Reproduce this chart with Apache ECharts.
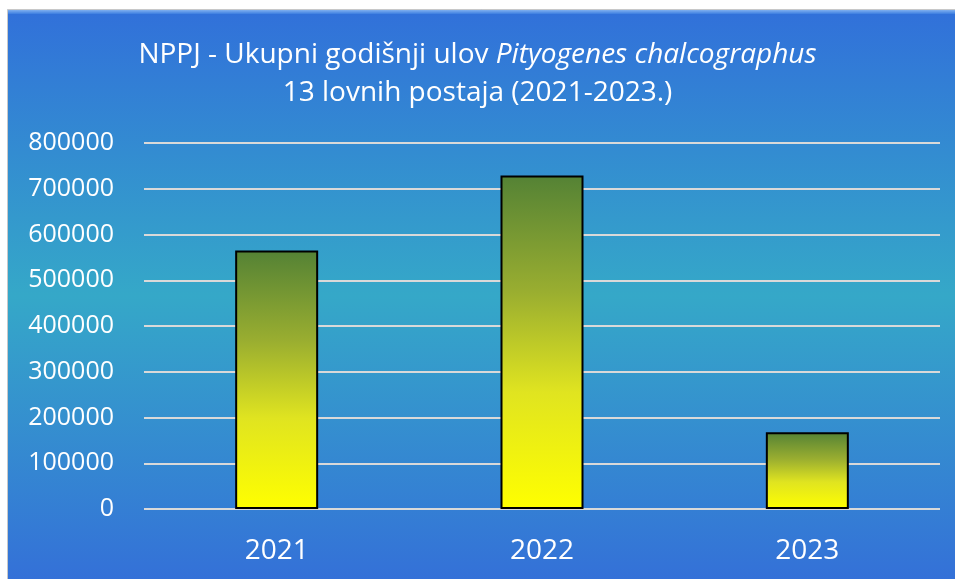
<!DOCTYPE html>
<html><head><meta charset="utf-8">
<script src="https://cdn.jsdelivr.net/npm/echarts@6/dist/echarts.min.js"></script>
<style>html,body{margin:0;padding:0;background:#fff}#c{width:955px;height:579px}</style>
</head><body><div id="c"></div>
<script>
const categories = ['2021', '2022', '2023'];
const catchValues = [565000, 729000, 168000];
const yTicks = [0, 100000, 200000, 300000, 400000, 500000, 600000, 700000, 800000];

const chart = echarts.init(document.getElementById('c'));
const font = '"Open Sans", Lato, sans-serif';
chart.setOption({
  backgroundColor: '#ffffff',
  graphic: [
    { type: 'rect', z: -10, shape: { x: 7.5, y: 9.5, width: 950, height: 572 },
      style: { fill: new echarts.graphic.LinearGradient(0, 0, 0, 1, [
        { offset: 0, color: '#3170da' },
        { offset: 0.5, color: '#35a8c8' },
        { offset: 1, color: '#3470d8' }
      ]), stroke: '#c8c8c8', lineWidth: 1 } },
    { type: 'rect', z: -9, shape: { x: 8, y: 10, width: 947, height: 4 },
      style: { fill: new echarts.graphic.LinearGradient(0, 0, 0, 1, [
        { offset: 0, color: '#7fb0f0' },
        { offset: 1, color: '#3c7ee0' }
      ]) } }
  ],
  title: {
    text: '{a|NPPJ - Ukupni godišnji ulov }{b|Pityogenes chalcographus}\n{a|13 lovnih postaja (2021-2023.)}',
    left: 'center', top: 31,
    textStyle: {
      fontWeight: 'normal',
      rich: {
        a: { color: '#fff', fontSize: 28, fontWeight: 'normal', fontFamily: font, lineHeight: 38 },
        b: { color: '#fff', fontSize: 28, fontWeight: 'normal', fontFamily: font, fontStyle: 'italic', lineHeight: 38 }
      }
    }
  },
  grid: { left: 144, right: 15, top: 143, bottom: 70 },
  xAxis: {
    type: 'category', data: categories,
    axisLine: { show: false }, axisTick: { show: false },
    axisLabel: { color: '#fff', fontSize: 28, fontFamily: font, margin: 28 }
  },
  yAxis: {
    type: 'value', min: 0, max: 800000, interval: 100000,
    axisLine: { show: false }, axisTick: { show: false },
    axisLabel: { color: '#fff', fontSize: 25, fontFamily: font, margin: 30,
      formatter: v => yTicks.includes(v) ? String(v) : '' },
    splitLine: { lineStyle: { color: '#d9d9d9', width: 2 } }
  },
  series: [{
    type: 'bar', data: catchValues, barWidth: 83,
    itemStyle: {
      color: new echarts.graphic.LinearGradient(0, 0, 0, 1, [
        { offset: 0, color: '#548235' },
        { offset: 0.35, color: '#9aae30' },
        { offset: 0.65, color: '#e0e420' },
        { offset: 1, color: '#ffff00' }
      ]),
      borderColor: '#000', borderWidth: 2
    }
  }]
});
</script></body></html>
